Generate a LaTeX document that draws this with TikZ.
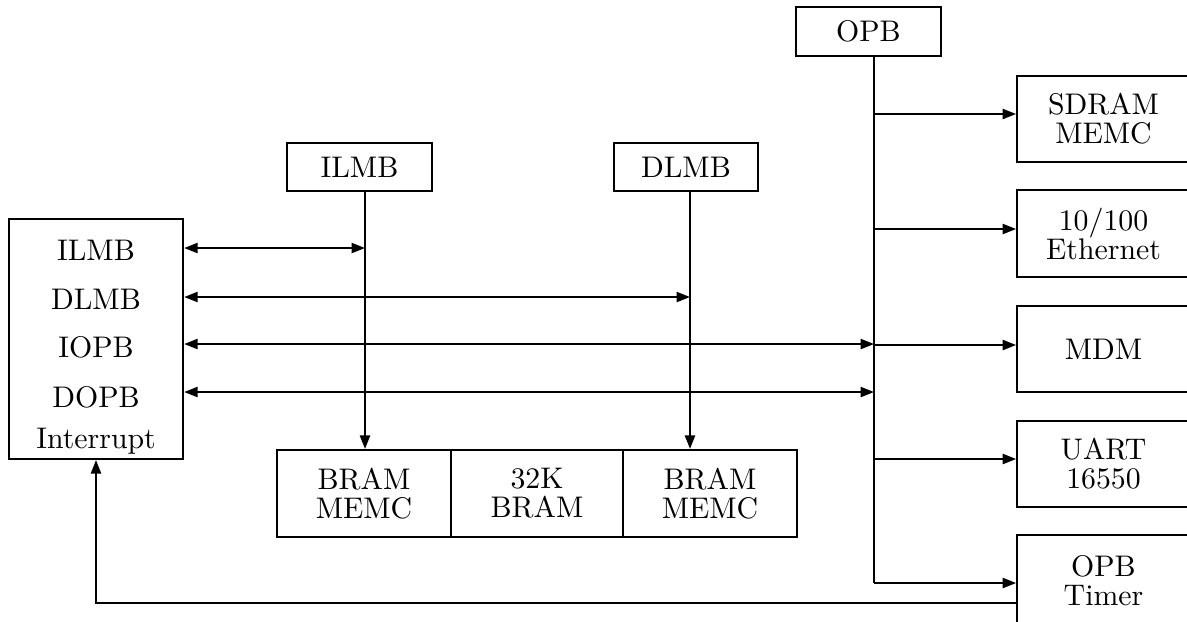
\documentclass[tikz,border=0pt]{standalone}
\usepackage{tikz}
\usetikzlibrary{arrows.meta,calc}

\tikzset{
  blk/.style={draw,line width=0.7pt,inner sep=0pt,align=center,
    font=\fontsize{10.6}{10.3}\selectfont},
  lbl/.style={inner sep=0pt,anchor=base,font=\fontsize{10.6}{10.3}\selectfont},
}

\begin{document}
\begin{tikzpicture}[x=0.0125cm,y=-0.0125cm,line width=0.7pt,
  >={Triangle[length=4.8pt,width=3.6pt]}]
\useasboundingbox (0,0) rectangle (1187,621);
% processor
\node[blk,minimum width=2.18cm,minimum height=3cm] (cpu) at (96,339) {};
\node[lbl] (cilmb) at (96,260) {ILMB};
\node[lbl] (cdlmb) at (96,309) {DLMB};
\node[lbl] (ciopb) at (96,357) {IOPB};
\node[lbl] (cdopb) at (96,407) {DOPB};
\node[lbl] (cirq) at (96,448) {Interrupt};
% local memory buses
\node[blk,minimum width=1.81cm,minimum height=0.6cm] (ilmb) at (359.5,167) {ILMB};
\node[blk,minimum width=1.8cm,minimum height=0.6cm] (dlmb) at (686,167) {DLMB};
\node[blk,minimum width=2.17cm,minimum height=1.09cm] (bram1) at (364,493.5) {BRAM\\MEMC};
\node[blk,minimum width=2.15cm,minimum height=1.09cm] (bram32) at (537,493.5) {32K\\BRAM};
\node[blk,minimum width=2.17cm,minimum height=1.09cm] (bram2) at (710,493.5) {BRAM\\MEMC};
% OPB and peripherals
\node[blk,minimum width=1.81cm,minimum height=0.61cm] (opb) at (868.5,31.5) {OPB};
\node[blk,minimum width=2.16cm,minimum height=1.08cm] (sdram) at (1103.5,119) {SDRAM\\MEMC};
\node[blk,minimum width=2.16cm,minimum height=1.08cm] (eth) at (1103.5,233.5) {10/100\\Ethernet};
\node[blk,minimum width=2.16cm,minimum height=1.08cm] (mdm) at (1103.5,349) {MDM};
\node[blk,minimum width=2.16cm,minimum height=1.08cm] (uart) at (1103.5,464) {UART\\16550};
\node[blk,minimum width=2.16cm,minimum height=1.16cm] (timer) at (1103.5,581) {OPB\\Timer};

\coordinate (ib) at (365,248);
\coordinate (db) at (690,297);
\coordinate (io) at (874,344);
\coordinate (do) at (874,392);
\coordinate (irq) at (96,603);

\draw[<->] (cpu.east |- ib) -- (ib);
\draw[<->] (cpu.east |- db) -- (db);
\draw[<->] (cpu.east |- io) -- (io);
\draw[<->] (cpu.east |- do) -- (do);
\draw[->] (ilmb.south -| ib) -- (ib |- bram1.north);
\draw[->] (dlmb.south -| db) -- (db |- bram2.north);

% OPB bus
\draw (opb.south -| io) -- (874,583);
\foreach \y/\dst in {114/sdram,229/eth,345/mdm,459/uart,583/timer}
  \draw[->] (874,\y) -- (874,\y -| \dst.west);
\draw[->] (irq -| timer.west) -- (irq) -- (irq |- cpu.south);
\end{tikzpicture}
\end{document}
